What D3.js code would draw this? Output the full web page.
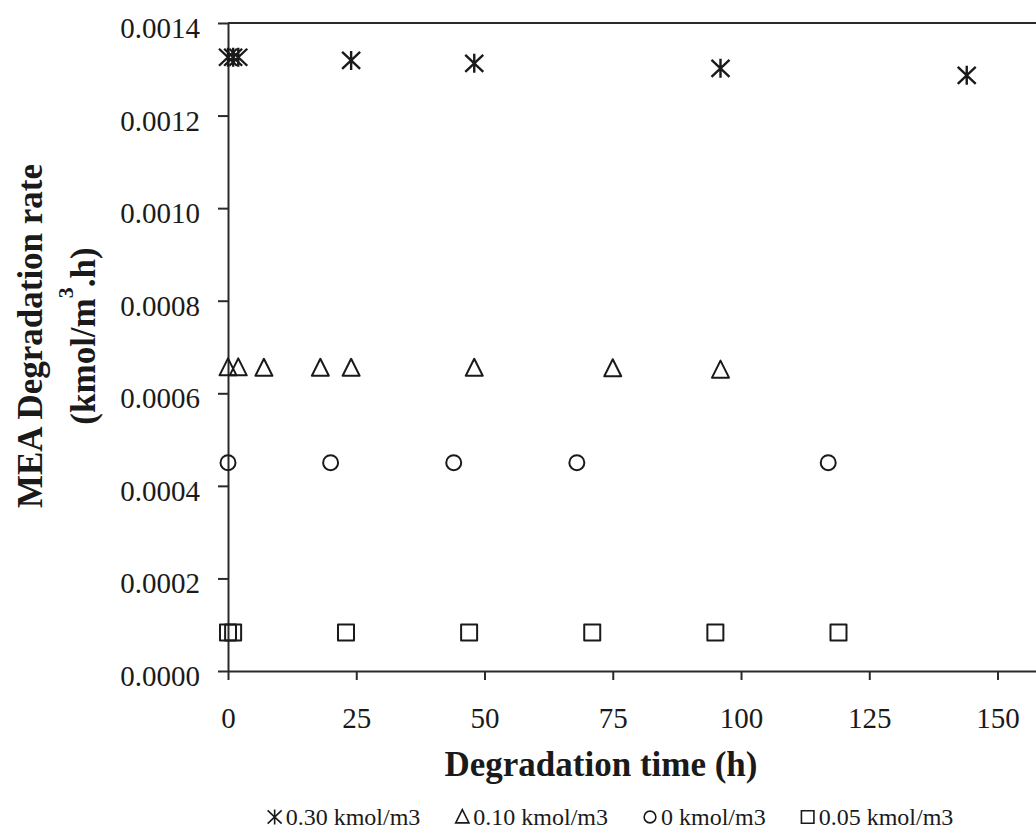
<!DOCTYPE html>
<html>
<head>
<meta charset="utf-8">
<script src="https://cdn.jsdelivr.net/npm/d3@7"></script>
<style>
  body { margin: 0; background: #fff; }
  svg { display: block; font-family: "Liberation Serif", "Times New Roman", serif; }
</style>
</head>
<body>
<svg id="chart"></svg>
<script>
// degradation time (h) and MEA degradation rate (kmol/m3.h) per initial concentration
const starHours = [0, 1, 2, 24, 48, 96, 144];
const starRates = [0.001326, 0.001326, 0.001326, 0.001319, 0.001313, 0.001302, 0.001287];

const triHours = [0, 2, 7, 18, 24, 48, 75, 96];
const triRates = [0.000655, 0.000655, 0.000654, 0.000654, 0.000654, 0.000654, 0.000653, 0.00065];

const circleHours = [0, 20, 44, 68, 117];
const circleRates = [0.00045, 0.00045, 0.00045, 0.00045, 0.00045];

const squareHours = [0, 1, 23, 47, 71, 95, 119];
const squareRates = [0.000083, 0.000083, 0.000083, 0.000083, 0.000083, 0.000083, 0.000083];

const seriesNames = ["0.30 kmol/m3", "0.10 kmol/m3", "0 kmol/m3", "0.05 kmol/m3"];
const seriesShapes = ["star", "triangle", "circle", "square"];

const xTicks = [0, 25, 50, 75, 100, 125, 150];
const yTicks = [0, 0.0002, 0.0004, 0.0006, 0.0008, 0.0010, 0.0012, 0.0014];

const series = [
  { shape: "star", hours: starHours, rates: starRates },
  { shape: "triangle", hours: triHours, rates: triRates },
  { shape: "circle", hours: circleHours, rates: circleRates },
  { shape: "square", hours: squareHours, rates: squareRates }
];

const width = 1036;
const height = 836;
const margin = { top: 23, right: 0, bottom: 165, left: 228 };
const ink = "#1a1a1a";

const svg = d3.select("#chart").attr("width", width).attr("height", height);

const x = d3.scaleLinear()
  .domain([0, 157.5])
  .range([margin.left, width - margin.right]);

const y = d3.scaleLinear()
  .domain([0, 0.0014])
  .range([height - margin.bottom, margin.top]);

// marker outlines, centred on 0,0
function shapePath(shape, s) {
  if (shape === "star") {
    return `M${-9 * s},${-8.5 * s}L${9 * s},${8.5 * s}M${-9 * s},${8.5 * s}L${9 * s},${-8.5 * s}M0,${-9.5 * s}L0,${9.5 * s}`;
  }
  if (shape === "triangle") {
    return `M0,${-9.5 * s}L${8.5 * s},${7.5 * s}L${-8.5 * s},${7.5 * s}Z`;
  }
  if (shape === "square") {
    return `M${-8 * s},${-8 * s}H${8 * s}V${8 * s}H${-8 * s}Z`;
  }
  const r = 7.5 * s;
  return `M${r},0A${r},${r} 0 1,1 ${-r},0A${r},${r} 0 1,1 ${r},0Z`;
}

// axes
const xAxis = svg.append("g")
  .attr("transform", `translate(0,${y(0)})`)
  .call(d3.axisBottom(x).tickValues(xTicks).tickSize(9).tickSizeOuter(0).tickPadding(27));

const yAxis = svg.append("g")
  .attr("transform", `translate(${x(0)},0)`)
  .call(d3.axisLeft(y).tickValues(yTicks).tickFormat(d3.format(".4f"))
    .tickSize(10).tickSizeOuter(0).tickPadding(18));

yAxis.selectAll(".tick text").attr("dy", "0.5em");

[xAxis, yAxis].forEach(g => {
  g.attr("font-family", null).attr("font-size", null);
  g.selectAll("path, line").attr("stroke", "#2a2a2a").attr("stroke-width", 2);
  g.selectAll("text").attr("fill", ink).style("font-size", "29px");
});

// top frame line
svg.append("line")
  .attr("x1", x.range()[0]).attr("x2", x.range()[1])
  .attr("y1", y(0.0014)).attr("y2", y(0.0014))
  .attr("stroke", "#2a2a2a").attr("stroke-width", 2);

// points
series.forEach(s => {
  svg.append("g")
    .selectAll("path")
    .data(s.hours.map((h, i) => ({ h, r: s.rates[i] })))
    .join("path")
    .attr("transform", d => `translate(${x(d.h)},${y(d.r)})`)
    .attr("d", shapePath(s.shape, 1))
    .attr("fill", "none")
    .attr("stroke", ink)
    .attr("stroke-width", s.shape === "star" ? 2.4 : 2)
    .attr("stroke-linejoin", "round");
});

// axis titles
svg.append("text")
  .attr("x", 601).attr("y", 776)
  .attr("text-anchor", "middle")
  .attr("font-weight", "bold")
  .attr("font-size", 35)
  .attr("fill", ink)
  .text("Degradation time (h)");

const yTitle = svg.append("text")
  .attr("transform", "translate(0,336) rotate(-90)")
  .attr("text-anchor", "middle")
  .attr("font-weight", "bold")
  .attr("font-size", 35)
  .attr("fill", ink);

yTitle.append("tspan").attr("x", 0).attr("y", 42).text("MEA Degradation rate");
const line2 = yTitle.append("tspan").attr("x", 0).attr("y", 95);
line2.append("tspan").text("(kmol/m");
line2.append("tspan").attr("font-size", 22).attr("dy", -22).text("3");
line2.append("tspan").attr("dy", 22).text(".h)");

// legend
const legend = svg.append("g");
let cursor = 0;
seriesNames.forEach((name, i) => {
  const item = legend.append("g").attr("transform", `translate(${cursor},0)`);
  item.append("path")
    .attr("transform", "translate(8,-8)")
    .attr("d", shapePath(seriesShapes[i], 0.78))
    .attr("fill", "none")
    .attr("stroke", ink)
    .attr("stroke-width", 1.6);
  const t = item.append("text")
    .attr("x", 19).attr("y", 0)
    .attr("font-size", 24)
    .attr("fill", ink)
    .text(name);
  cursor += 19 + t.node().getComputedTextLength() + 34;
});
const legendWidth = cursor - 34;
legend.attr("transform", `translate(${610 - legendWidth / 2},825)`);
</script>
</body>
</html>
